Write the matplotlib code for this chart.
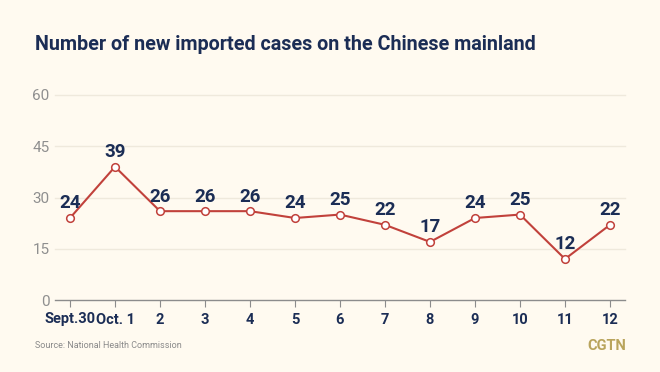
import matplotlib
matplotlib.use("Agg")
import matplotlib.pyplot as plt

days = ["Sept.30", "Oct. 1", "2", "3", "4", "5", "6", "7", "8", "9", "10", "11", "12"]
cases = [24, 39, 26, 26, 26, 24, 25, 22, 17, 24, 25, 12, 22]
y_ticks = [0, 15, 30, 45, 60]

plt.rcParams["font.family"] = ["Roboto", "DejaVu Sans"]

bg = "#fffaf0"
navy = "#1b2d55"
red = "#c1413b"

fig = plt.figure(figsize=(6.6, 3.72), dpi=100, facecolor=bg)
ax = fig.add_axes([55 / 660, 1 - 300 / 372, 570 / 660, 205 / 372], facecolor=bg)

x = list(range(len(days)))
ax.plot(x, cases, color=red, lw=1.5, marker="o", ms=5.5, mfc="white", mec=red, mew=1.1, zorder=3)
for xi, v in zip(x, cases):
    ax.annotate(str(v), (xi, v), xytext=(0, 4), textcoords="offset points",
                ha="center", va="bottom", fontsize=13.5, fontweight="bold",
                color=navy, zorder=4)

ax.set_xlim(-1 / 3, len(days) - 1 + 1 / 3)
ax.set_ylim(0, 60)
ax.set_yticks(y_ticks)
ax.set_yticklabels([str(t) for t in y_ticks])
ax.set_xticks(x)
ax.set_xticklabels(days)
for t in y_ticks[1:]:
    ax.axhline(t, color="#efe9dc", lw=1, zorder=1, clip_on=False)

for s in ["top", "right", "left"]:
    ax.spines[s].set_visible(False)
ax.spines["bottom"].set_color("#8c8c8c")
ax.spines["bottom"].set_linewidth(1)
ax.tick_params(axis="y", length=0, pad=4, labelsize=11, labelcolor="#8f8f8f")
ax.tick_params(axis="x", length=5, color="#8c8c8c", pad=4, labelsize=10.5, labelcolor=navy)
for lab in ax.get_xticklabels():
    lab.set_fontweight("bold")

fig.text(35 / 660, 1 - 44 / 372, "Number of new imported cases on the Chinese mainland",
         fontsize=14.2, fontweight="bold", color=navy, va="center")
fig.text(35 / 660, 1 - 346 / 372, "Source: National Health Commission",
         fontsize=6.5, color="#8a8a8a", va="center")
fig.text(626 / 660, 1 - 346 / 372, "CGTN", fontsize=10.5, fontweight="bold",
         color="#b9a45c", ha="right", va="center")

fig.savefig("out.png", dpi=100, facecolor=bg)
